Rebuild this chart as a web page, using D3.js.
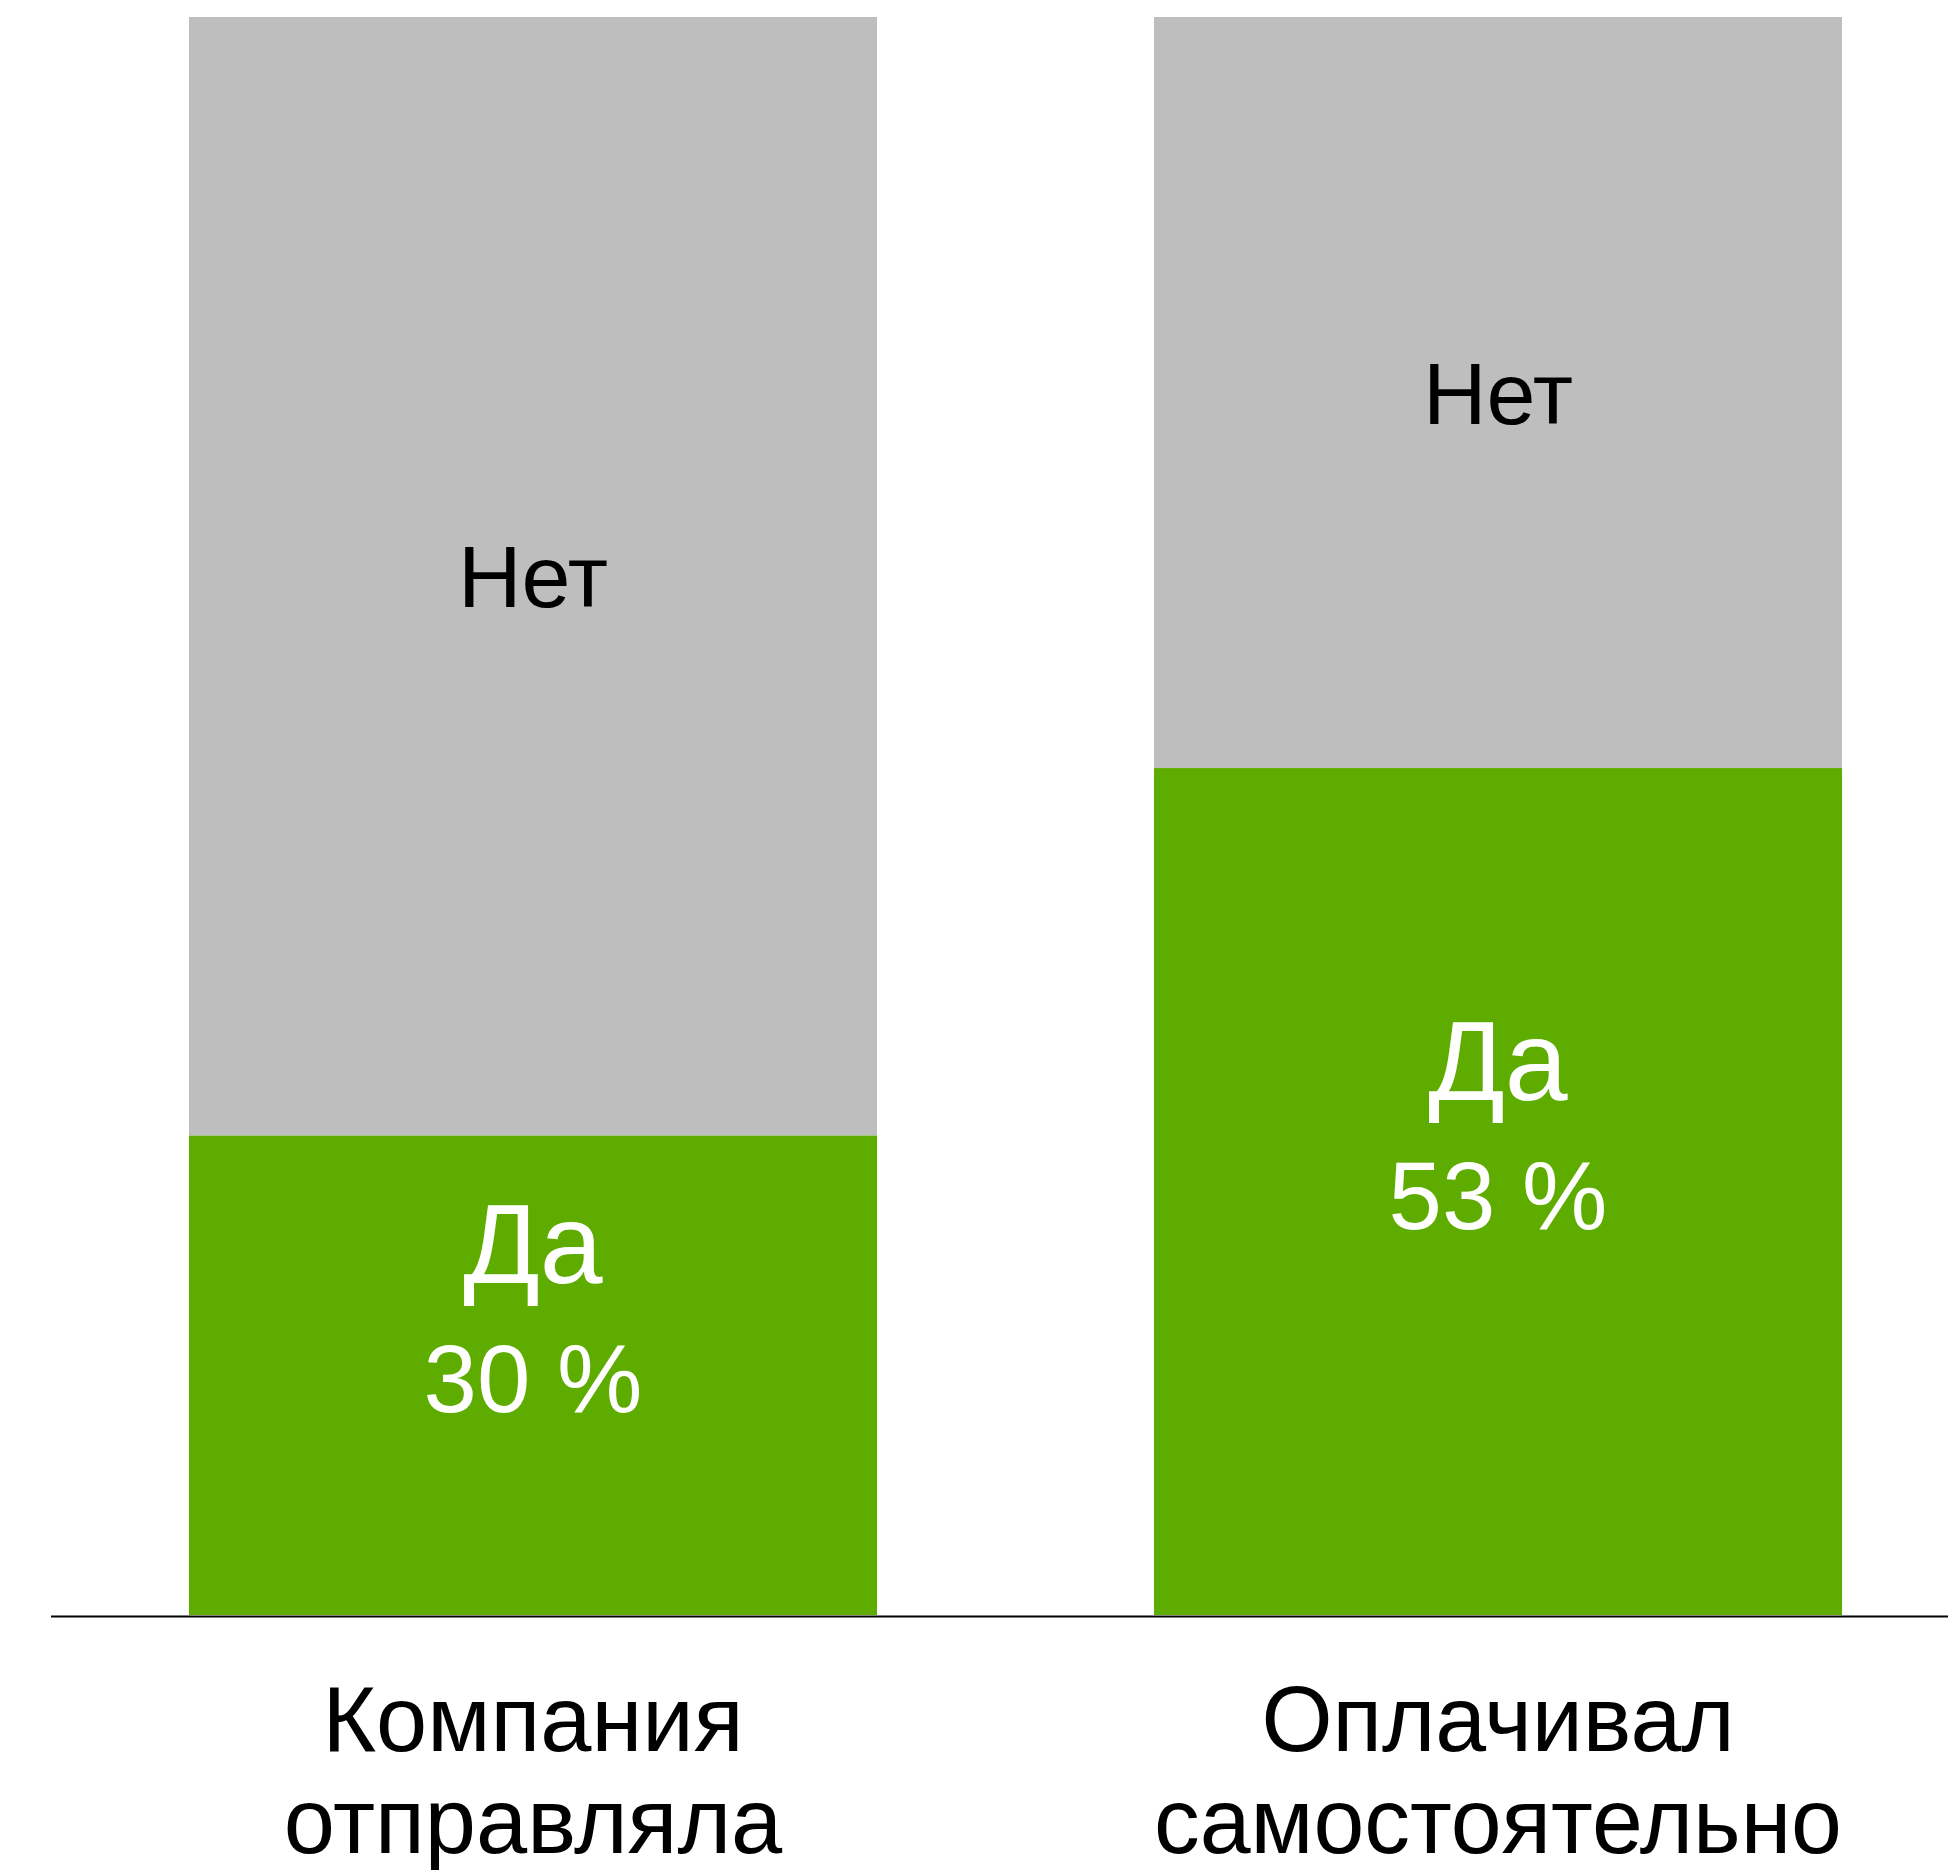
<!DOCTYPE html>
<html>
<head>
<meta charset="utf-8">
<script src="https://cdn.jsdelivr.net/npm/d3@7"></script>
<style>
  body { margin: 0; background: #fff; }
  svg text { font-family: "Liberation Sans", Arial, sans-serif; }
</style>
</head>
<body>
<div id="chart"></div>
<script>
// data
var categories = [["Компания", "отправляла"], ["Оплачивал", "самостоятельно"]];
var yesValues = [30, 53];
var yesLabel = "Да";
var noLabel = "Нет";

var width = 1948, height = 1870;
var svg = d3.select("#chart").append("svg")
    .attr("width", width)
    .attr("height", height);

var x = d3.scaleBand()
    .domain(d3.range(categories.length))
    .range([50.5, 1980.5])
    .paddingInner(0.287)
    .paddingOuter(0.1435);

var y = d3.scaleLinear()
    .domain([0, 100])
    .range([1615, 17]);

var green = "#5fac00";
var grey = "#bebebe";

var bars = svg.append("g").attr("class", "bars");

// grey "no" part, full height
bars.selectAll("rect.no")
    .data(yesValues)
    .enter().append("rect")
    .attr("class", "no")
    .attr("x", function(d, i) { return x(i); })
    .attr("y", y(100))
    .attr("width", x.bandwidth())
    .attr("height", function(d) { return y(d) - y(100); })
    .attr("fill", grey);

// green "yes" part
bars.selectAll("rect.yes")
    .data(yesValues)
    .enter().append("rect")
    .attr("class", "yes")
    .attr("x", function(d, i) { return x(i); })
    .attr("y", function(d) { return y(d); })
    .attr("width", x.bandwidth())
    .attr("height", function(d) { return y(0) - y(d); })
    .attr("fill", green);

// labels inside bars
var labels = svg.append("g").attr("text-anchor", "middle");

yesValues.forEach(function(d, i) {
    var cx = x(i) + x.bandwidth() / 2;
    var yesMid = (y(0) + y(d)) / 2;
    var noMid = (y(d) + y(100)) / 2;

    labels.append("text")
        .attr("x", cx)
        .attr("y", noMid + 31)
        .attr("fill", "#000")
        .style("font-size", "88px")
        .text(noLabel);

    labels.append("text")
        .attr("x", cx)
        .attr("y", yesMid - 92)
        .attr("fill", "#fff")
        .style("font-size", "113px")
        .text(yesLabel);

    labels.append("text")
        .attr("x", cx)
        .attr("y", yesMid + 37)
        .attr("fill", "#fff")
        .style("font-size", "96px")
        .text(d + " %");
});

// baseline axis
var axis = svg.append("g")
    .attr("transform", "translate(0," + (y(0) + 1) + ")")
    .call(d3.axisBottom(x).tickSize(0).tickSizeOuter(0).tickFormat(""));
axis.select(".domain")
    .attr("stroke", "#000")
    .attr("stroke-width", 2);

// category labels, two lines each
categories.forEach(function(lines, i) {
    var cx = x(i) + x.bandwidth() / 2;
    var g = svg.append("g");
    var t = g.append("text")
        .attr("text-anchor", "middle")
        .attr("fill", "#000")
        .style("font-size", "92px");
    lines.forEach(function(line, j) {
        t.append("tspan")
            .attr("x", 0)
            .attr("y", 1751 + j * 102)
            .text(line);
    });
    var w = t.node().getBBox().width;
    var k = w > x.bandwidth() ? x.bandwidth() / w : 1;
    g.attr("transform", "translate(" + cx + ",0) scale(" + k + ",1)");
});
</script>
</body>
</html>
